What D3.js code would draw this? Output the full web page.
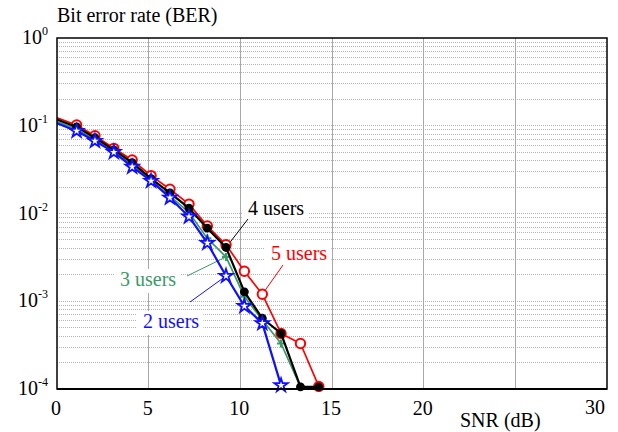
<!DOCTYPE html>
<html>
<head>
<meta charset="utf-8">
<script src="https://cdn.jsdelivr.net/npm/d3@7"></script>
<style>
  html, body { margin: 0; padding: 0; background: #fff; }
  svg { display: block; font-family: "Liberation Serif", "Times New Roman", serif; }
</style>
</head>
<body>
<svg id="chart" width="618" height="432"></svg>
<script>
// ---- data ----
const snr = [0, 1.07, 2.07, 3.1, 4.1, 5.13, 6.16, 7.2, 8.2, 9.22, 10.22, 11.2, 12.22, 13.28, 14.28];
const ber5 = [0.1236, 0.102, 0.077, 0.0553, 0.0407, 0.027, 0.0189, 0.0128, 0.0072, 0.0044, 0.0022, 0.0012, 0.00043, 0.00033, 0.000107];
const ber4 = [0.118, 0.097, 0.073, 0.053, 0.038, 0.025, 0.0172, 0.0115, 0.0068, 0.0041, 0.00128, 0.00064, 0.00043, 0.000106, 0.000106];
const ber3 = [0.112, 0.092, 0.069, 0.050, 0.036, 0.0235, 0.0158, 0.0103, 0.0052, 0.0032, 0.00113, 0.00061, 0.00033, 0.000106];
const ber2 = [0.107, 0.087, 0.067, 0.050, 0.034, 0.0235, 0.0151, 0.0092, 0.0046, 0.00194, 0.00088, 0.00056, 0.00011];
const seriesNames = ["5 users", "3 users", "4 users", "2 users"];
const xTicks = [0, 5, 10, 15, 20, 30];
const yTickExps = ["0", "-1", "-2", "-3", "-4"];
const yTitle = "Bit error rate (BER)";
const xTitle = "SNR (dB)";
const annotatedPoint = 9; // index of the point each label points to

// ---- layout ----
const W = 618, H = 432;
const L = 57, R = 607, T = 38, B = 389;
const svg = d3.select("#chart");

const x = d3.scaleLinear().domain([0, 30]).range([L, R]);
const y = d3.scaleLog().domain([1e-4, 1]).range([B, T]);

// minor horizontal grid (dotted)
const minorVals = [];
for (let e = -4; e < 0; e++) for (let m = 1; m <= 9; m++) minorVals.push(m * Math.pow(10, e));
svg.append("g").selectAll("line").data(minorVals.filter(v => v > 1e-4 && v < 1)).join("line")
  .attr("x1", L).attr("x2", R)
  .attr("y1", d => y(d)).attr("y2", d => y(d))
  .attr("stroke", "#b4b4b4").attr("stroke-width", 1).attr("stroke-dasharray", "1,1")
  .attr("shape-rendering", "crispEdges");

// vertical grid
svg.append("g").selectAll("line").data([5, 10, 15, 20, 25]).join("line")
  .attr("x1", d => x(d)).attr("x2", d => x(d))
  .attr("y1", T).attr("y2", B)
  .attr("stroke", "#a8a8a8").attr("stroke-width", 1)
  .attr("shape-rendering", "crispEdges");

// labels
const labels = [
  { name: "4 users", color: "#000000", tx: 248, ty: 215, data: ber4, sx: 248, sy: 219 },
  { name: "5 users", color: "#ff0000", tx: 271, ty: 260, data: ber5, sx: 283, sy: 265, idx: 11 },
  { name: "3 users", color: "#3a9a68", tx: 120, ty: 286, data: ber3, sx: 187, sy: 276 },
  { name: "2 users", color: "#1010ff", tx: 143, ty: 328, data: ber2, sx: 190, sy: 302 }
];

const gBoxes = svg.append("g");

// curves
const line = d3.line().x(d => x(d[0])).y(d => y(d[1]));
const series = [
  { data: ber5, color: "#ff0000", width: 1.7, marker: "circleOpen" },
  { data: ber3, color: "#3a9a68", width: 1.7, marker: "plus" },
  { data: ber4, color: "#000000", width: 2.2, marker: "circleFilled" },
  { data: ber2, color: "#1010ff", width: 2.2, marker: "star" }
];

// annotation leader lines
svg.append("g").selectAll("line").data(labels).join("line")
  .attr("x1", d => d.sx).attr("y1", d => d.sy)
  .attr("x2", d => x(snr[d.idx || annotatedPoint]))
  .attr("y2", d => y(d.data[d.idx || annotatedPoint]))
  .attr("stroke", d => d.color).attr("stroke-width", 1);

series.forEach(s => {
  const pts = s.data.map((v, i) => [snr[i], v]);
  const g = svg.append("g");
  g.append("path").datum(pts).attr("d", line)
    .attr("fill", "none").attr("stroke", s.color).attr("stroke-width", s.width)
    .attr("stroke-linejoin", "round");
  const mk = g.selectAll("g.mk").data(pts.slice(1)).join("g")
    .attr("transform", d => `translate(${x(d[0])},${y(d[1])})`);
  if (s.marker === "circleOpen") {
    mk.append("circle").attr("r", 4.7).attr("fill", "#fff").attr("stroke", s.color).attr("stroke-width", 2);
  } else if (s.marker === "circleFilled") {
    mk.append("circle").attr("r", 4.4).attr("fill", s.color);
  } else if (s.marker === "star") {
    mk.append("path").attr("d", d3.symbol().type(d3.symbolStar).size(55))
      .attr("fill", "#fff").attr("stroke", s.color).attr("stroke-width", 1.8);
  } else if (s.marker === "plus") {
    mk.append("path").attr("d", "M-4,0H4M0,-4V4")
      .attr("stroke", s.color).attr("stroke-width", 2.2);
  }
});

// label text + boxes
const gLabelText = svg.append("g");
labels.forEach(l => {
  gLabelText.append("text").attr("x", l.tx).attr("y", l.ty)
    .attr("font-size", 20).attr("fill", l.color).text(l.name);
});
labels.forEach((l, i) => {
  const bb = gLabelText.selectAll("text").nodes()[i].getBBox();
  gBoxes.append("rect").attr("x", bb.x - 6).attr("y", bb.y + 1)
    .attr("width", bb.width + 10).attr("height", bb.height + 2).attr("fill", "#fff");
});

// frame
svg.append("rect").attr("x", L).attr("y", T).attr("width", R - L).attr("height", B - T)
  .attr("fill", "none").attr("stroke", "#000").attr("stroke-width", 1.5);
svg.append("line").attr("x1", L).attr("x2", R).attr("y1", B).attr("y2", B)
  .attr("stroke", "#000").attr("stroke-width", 2);

// x tick labels
svg.append("g").selectAll("text").data(xTicks).join("text")
  .attr("x", d => d === 30 ? x(d) - 2 : x(d) - 1)
  .attr("y", d => d === 30 ? 414 : 415)
  .attr("text-anchor", d => d === 30 ? "end" : "middle")
  .attr("font-size", 20).text(d => d);

// y tick labels
const yt = svg.append("g").selectAll("text").data(yTickExps).join("text")
  .attr("x", 48).attr("y", d => y(Math.pow(10, +d)) + 6)
  .attr("text-anchor", "end").attr("font-size", 20);
yt.append("tspan").text("10");
yt.append("tspan").attr("font-size", 12).attr("dy", -9).text(d => d);

// axis titles
svg.append("text").attr("x", 57).attr("y", 22).attr("font-size", 20).text(yTitle);
svg.append("text").attr("x", 460).attr("y", 427).attr("font-size", 20).text(xTitle);
</script>
</body>
</html>
